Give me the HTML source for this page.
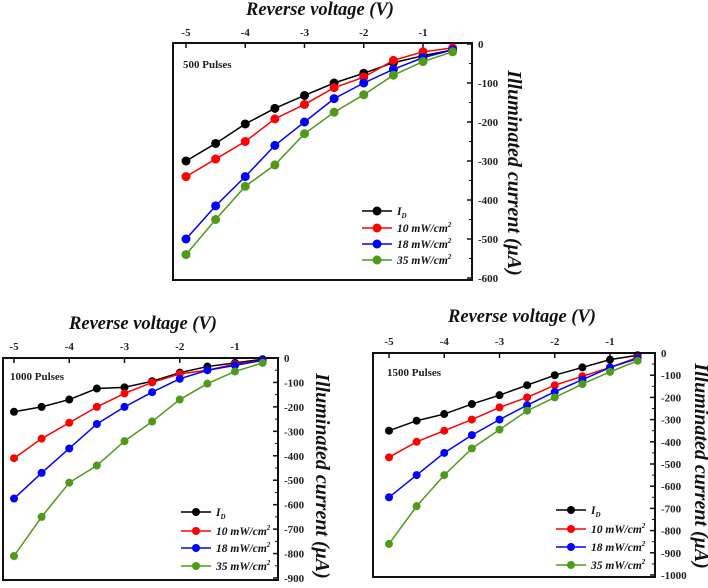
<!DOCTYPE html>
<html><head><meta charset="utf-8"><style>
html,body{margin:0;padding:0;background:#fff;}
svg{display:block;font-family:"Liberation Serif",serif;}
</style></head><body>
<svg id="s" width="708" height="588" viewBox="0 0 708 588" xmlns="http://www.w3.org/2000/svg"></svg>
<script>
const voltages=[-5,-4.5,-4,-3.5,-3,-2.5,-2,-1.5,-1,-0.5];
const xTicks=[-5,-4,-3,-2,-1];
const seriesNames=["I","10 mW/cm","18 mW/cm","35 mW/cm"];
const seriesColors=["#000","#ff0000","#0000ff","#4f9a1a"];
const p500_ID=[-300,-255,-205,-165,-132,-100,-75,-48,-30,-15];
const p500_10=[-340,-295,-250,-192,-155,-112,-85,-42,-20,-10];
const p500_18=[-500,-415,-340,-260,-200,-140,-100,-65,-35,-15];
const p500_35=[-540,-450,-365,-310,-230,-175,-130,-80,-45,-20];
const p1000_ID=[-220,-200,-170,-125,-120,-95,-60,-35,-20,-5];
const p1000_10=[-410,-330,-265,-200,-145,-100,-65,-50,-25,-10];
const p1000_18=[-575,-470,-370,-270,-200,-140,-85,-50,-30,-10];
const p1000_35=[-810,-650,-510,-440,-340,-260,-170,-105,-55,-20];
const p1500_ID=[-350,-305,-275,-230,-190,-145,-100,-65,-30,-10];
const p1500_10=[-470,-400,-350,-300,-245,-200,-145,-105,-65,-20];
const p1500_18=[-650,-550,-450,-370,-300,-235,-175,-120,-65,-25];
const p1500_35=[-860,-690,-550,-430,-345,-260,-200,-140,-85,-35];
const yTicks500=[0,-100,-200,-300,-400,-500,-600];
const yTicks1000=[0,-100,-200,-300,-400,-500,-600,-700,-800,-900];
const yTicks1500=[0,-100,-200,-300,-400,-500,-600,-700,-800,-900,-1000];

const NS="http://www.w3.org/2000/svg";
const svg=document.getElementById('s');
function mk(tag,attrs,parent,text){const e=document.createElementNS(NS,tag);for(const k in attrs)e.setAttribute(k,attrs[k]);if(text!==undefined)e.textContent=text;(parent||svg).appendChild(e);return e;}

function chart(cfg){
  const g=mk('g',{});
  
  
  const X=v=>cfg.x5+(v+5)*cfg.perV;
  const Y=v=>cfg.y0+(v/cfg.ymin)*(cfg.yBot-cfg.y0);
  const box=mk('rect',{x:cfg.left,y:cfg.top,width:cfg.right-cfg.left,height:cfg.bottom-cfg.top,fill:'none',stroke:'#111','stroke-width':2},g);
  
  
  xTicks.forEach(t=>{
    mk('line',{x1:X(t),x2:X(t),y1:cfg.top,y2:cfg.top+5,stroke:'#111','stroke-width':1.5},g);
    const tl=mk('text',{x:X(t),y:cfg.tickY,'font-size':11,'font-weight':'bold','text-anchor':'middle',fill:'#222'},g,String(t));
    
    
  });
  cfg.yTicks.forEach((t,i)=>{
    const y=Y(t);
    mk('line',{x1:cfg.right,x2:cfg.right-5,y1:y,y2:y,stroke:'#111','stroke-width':1.5},g);
    if(i<cfg.yTicks.length-1){const ym=Y(t-50);mk('line',{x1:cfg.right,x2:cfg.right-3,y1:ym,y2:ym,stroke:'#111','stroke-width':1},g);}
    const tl=mk('text',{x:cfg.right+6,y:y+4,'font-size':11,'font-weight':'bold',fill:'#222'},g,String(t));
    
    
  });
  const xt=mk('text',{x:cfg.titleX,y:cfg.titleY,'font-size':18.5,'font-weight':'bold','font-style':'italic','text-anchor':'middle',fill:'#111'},g,'Reverse voltage (V)');
  
  
  const yt=mk('text',{x:0,y:0,'font-size':20,'font-weight':'bold','font-style':'italic','text-anchor':'middle',fill:'#111',transform:`translate(${cfg.ytX},${cfg.ytY}) rotate(90)`},g,'Illuminated current (\u03bcA)');
  
  
  const lb=mk('text',{x:cfg.labX,y:cfg.labY,'font-size':11,'font-weight':'bold',fill:'#222'},g,cfg.label);
  
  
  cfg.series.forEach((arr,si)=>{
    const col=seriesColors[si];
    const pl=mk('polyline',{points:arr.map((v,i)=>X(voltages[i])+','+Y(v)).join(' '),fill:'none',stroke:col,'stroke-width':1.5},g);
    
    
    arr.forEach((v,i)=>{
      const c=mk('circle',{cx:X(voltages[i]),cy:Y(v),r:cfg.r,fill:col},g);
      
      
    });
    const ly=cfg.legY[si];
    const le=mk('g',{},g);
    
    
    mk('line',{x1:cfg.legX,x2:cfg.legX+30,y1:ly,y2:ly,stroke:col,'stroke-width':1.5},le);
    mk('circle',{cx:cfg.legX+15,cy:ly,r:cfg.r,fill:col},le);
    const t=mk('text',{x:cfg.legX+35,y:ly+4,'font-size':11.5,'font-weight':'bold','font-style':'italic',fill:'#111'},le,seriesNames[si]);
    mk('tspan',{'font-size':7,dy:si===0?3:-5},t,si===0?'D':'2');
  });
}

chart({name:'chart-500-pulses',left:173,top:43,right:472,bottom:280,x5:186,perV:59.25,y0:44,yBot:278,ymin:-600,
  yTicks:yTicks500,tickY:36,titleX:320,titleY:15,ytX:508,ytY:173,label:'500 Pulses',labX:183,labY:68,r:4.5,
  legX:362,legY:[211,228,244,260],series:[p500_ID,p500_10,p500_18,p500_35]});
chart({name:'chart-1000-pulses',left:3,top:358,right:278,bottom:580,x5:14,perV:55.25,y0:358,yBot:578,ymin:-900,
  yTicks:yTicks1000,tickY:350,titleX:143,titleY:329,ytX:316,ytY:476,label:'1000 Pulses',labX:10,labY:380,r:4,
  legX:181,legY:[512,531,548,566],series:[p1000_ID,p1000_10,p1000_18,p1000_35]});
chart({name:'chart-1500-pulses',left:373,top:353,right:655,bottom:577,x5:389,perV:55.25,y0:353,yBot:575,ymin:-1000,
  yTicks:yTicks1500,tickY:345,titleX:522,titleY:322,ytX:695,ytY:466,label:'1500 Pulses',labX:387,labY:376,r:4,
  legX:556,legY:[510,529,547,565],series:[p1500_ID,p1500_10,p1500_18,p1500_35]});
</script>
</body></html>
